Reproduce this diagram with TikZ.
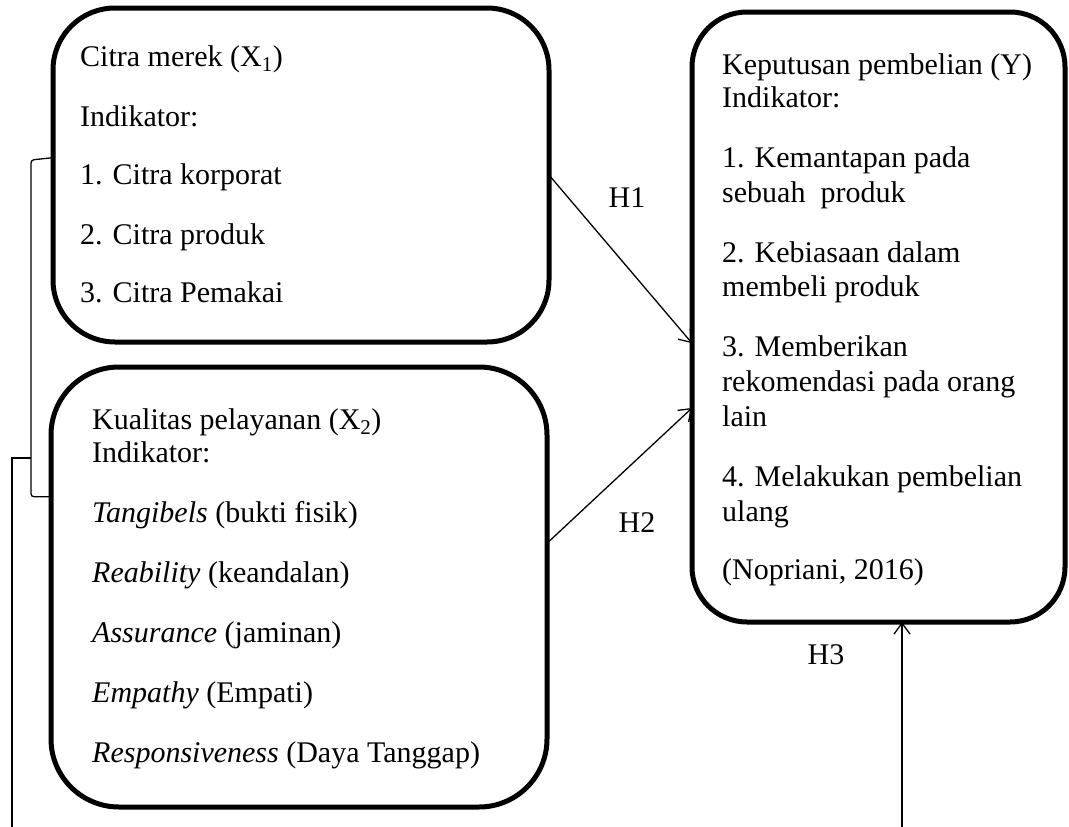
\documentclass[tikz,border=0pt]{standalone}
\usepackage{fontspec}
\setmainfont{Liberation Serif}
\usetikzlibrary{arrows.meta,calc}
\begin{document}
\begin{tikzpicture}[x=1pt,y=-1pt,
  rbox/.style={draw, line width=5pt, rounded corners=#1, inner sep=0pt, outer sep=0pt},
  txt/.style={anchor=base west, inner sep=0pt, font=\fontsize{30}{34}\selectfont},
  lbl/.style={inner sep=0pt, font=\fontsize{30}{34}\selectfont},
  conn/.style={line width=1.3pt},
  arr/.style={conn, -{Straight Barb[length=11pt,width=16pt]}}]
\useasboundingbox (0,0) rectangle (1069,827);

% boxes
\node[rbox=62pt, minimum width=496pt, minimum height=334pt] (box1) at (301,175) {};
\node[rbox=68pt, minimum width=496pt, minimum height=440pt] (box2) at (299,587) {};
\node[rbox=55pt, minimum width=373pt, minimum height=610pt] (box3) at (878.5,317) {};

% box 1 text
\node[txt] (a1) at (80,66) {Citra merek (X\textsubscript{1})};
\node[txt] (a2) at (80,126) {Indikator:};
\node[txt] (a3) at (80,184) {1. Citra korporat};
\node[txt] (a4) at (80,244) {2. Citra produk};
\node[txt] (a5) at (80,302) {3. Citra Pemakai};

% box 2 text
\node[txt] (b1) at (92,429) {Kualitas pelayanan (X\textsubscript{2})};
\node[txt] (b2) at (92,462) {Indikator:};
\node[txt] (b3) at (92,522) {\textit{Tangibels} (bukti fisik)};
\node[txt] (b4) at (92,582) {\textit{Reability} (keandalan)};
\node[txt] (b5) at (92,642) {\textit{Assurance} (jaminan)};
\node[txt] (b6) at (92,702) {\textit{Empathy} (Empati)};
\node[txt] (b7) at (92,762) {\textit{Responsiveness} (Daya Tanggap)};

% box 3 text
\node[txt] (c1) at (722,74) {Keputusan pembelian (Y)};
\node[txt] (c2) at (722,107) {Indikator:};
\node[txt] (c3) at (722,167) {1. Kemantapan pada};
\node[txt] (c4) at (722,202) {sebuah\ \ produk};
\node[txt] (c5) at (722,262) {2. Kebiasaan dalam};
\node[txt] (c6) at (722,296) {membeli produk};
\node[txt] (c7) at (722,356) {3. Memberikan};
\node[txt] (c8) at (722,391) {rekomendasi pada orang};
\node[txt] (c9) at (722,426) {lain};
\node[txt] (c10) at (722,486) {4. Melakukan pembelian};
\node[txt] (c11) at (722,521) {ulang};
\node[txt] (c12) at (722,579) {(Nopriani, 2016)};

% labels
\node[lbl] (h1) at (627,198) {H1};
\node[lbl] (h2) at (637,523) {H2};
\node[lbl] (h3) at (826,655) {H3};

% connectors
\draw[arr] (box1.east) -- (box3.188.5);
\draw[arr] (box2.10.7) -- (box3.206.5);
\coordinate (h3s) at (902,827);
\draw[arr] (h3s) -- (h3s |- box3.south);

\coordinate (bl) at (31,160);
\draw[conn, rounded corners=3pt] (box1.176.5) -- (bl) |- (box2.160.7);
\coordinate (bj) at (31,458);
\coordinate (lend) at (12,827);
\draw[conn] (bj) -| (lend);
\end{tikzpicture}
\end{document}
